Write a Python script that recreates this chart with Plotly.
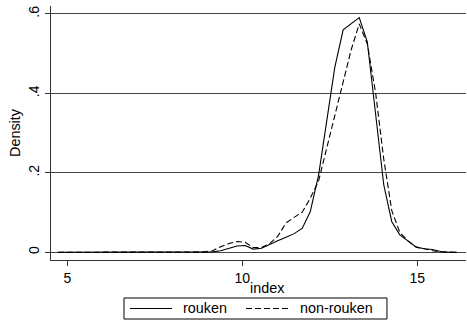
import plotly.graph_objects as go

# Evaluation grid of the kernel density estimates (index values)
index_grid = [4.73, 4.96, 5.20, 5.43, 5.66, 5.89, 6.13, 6.36, 6.59, 6.82,
              7.06, 7.29, 7.52, 7.75, 7.99, 8.22, 8.45, 8.69, 8.92, 9.15,
              9.38, 9.62, 9.85, 10.08, 10.31, 10.55, 10.78, 11.01, 11.25, 11.48,
              11.71, 11.94, 12.18, 12.41, 12.64, 12.88, 13.11, 13.34, 13.57, 13.81,
              14.04, 14.27, 14.50, 14.74, 14.97, 15.20, 15.43, 15.67, 15.90, 16.13]

# Density of index for the rouken group
density_rouken = [0, 0, 0, 0, 0, 0, 0, 0, 0, 0,
                  0, 0, 0, 0, 0, 0, 0, 0, 0, 0.001,
                  0.004, 0.010, 0.016, 0.017, 0.008, 0.010, 0.020, 0.029, 0.038, 0.047,
                  0.060, 0.102, 0.195, 0.330, 0.465, 0.560, 0.575, 0.591, 0.530, 0.340,
                  0.170, 0.077, 0.044, 0.028, 0.013, 0.009, 0.007, 0.002, 0, 0]

# Density of index for the non-rouken group
density_non_rouken = [0, 0, 0, 0, 0, 0, 0, 0, 0, 0,
                      0, 0, 0, 0, 0, 0, 0, 0, 0.001, 0.004,
                      0.014, 0.022, 0.027, 0.025, 0.012, 0.012, 0.022, 0.040, 0.074, 0.088,
                      0.101, 0.136, 0.180, 0.262, 0.345, 0.425, 0.510, 0.575, 0.525, 0.400,
                      0.235, 0.105, 0.050, 0.028, 0.013, 0.009, 0.004, 0.001, 0, 0]

series_names = ["rouken", "non-rouken"]
y_ticks = [0, 0.2, 0.4, 0.6]
y_tick_text = ["0", ".2", ".4", ".6"]
x_ticks = [5, 10, 15]

FONT = "Liberation Sans, Arial, Helvetica, sans-serif"
DASH = "6px,3px"
TEXT_SIZE = 14.4
TICK_SIZE = 14

fig = go.Figure()
fig.add_trace(go.Scatter(x=index_grid, y=density_rouken, mode="lines", name=series_names[0],
                         line=dict(color="black", width=1.1)))
fig.add_trace(go.Scatter(x=index_grid, y=density_non_rouken, mode="lines", name=series_names[1],
                         line=dict(color="black", width=1.1, dash=DASH)))

# x-axis title sits tight under the tick labels
fig.add_annotation(xref="paper", yref="paper", x=0.522, y=-0.11, text="index",
                   showarrow=False, xanchor="center", yanchor="middle",
                   font=dict(size=TEXT_SIZE, color="black"))

# Boxed legend below the x-axis title (paper coordinates)
fig.add_shape(type="rect", xref="paper", yref="paper", x0=0.1759, x1=0.8096,
              y0=-0.2323, y1=-0.1496, line=dict(color="black", width=1),
              fillcolor="white")
fig.add_shape(type="line", xref="paper", yref="paper", x0=0.1904, x1=0.2916,
              y0=-0.1909, y1=-0.1909, line=dict(color="black", width=1.1))
fig.add_shape(type="line", xref="paper", yref="paper", x0=0.4699, x1=0.5711,
              y0=-0.1909, y1=-0.1909, line=dict(color="black", width=1.1, dash=DASH))
fig.add_annotation(xref="paper", yref="paper", x=0.3133, y=-0.1909, text=series_names[0],
                   showarrow=False, xanchor="left", yanchor="middle",
                   font=dict(size=TEXT_SIZE, color="black"))
fig.add_annotation(xref="paper", yref="paper", x=0.5952, y=-0.1909, text=series_names[1],
                   showarrow=False, xanchor="left", yanchor="middle",
                   font=dict(size=TEXT_SIZE, color="black"))

fig.update_layout(
    width=467, height=321,
    margin=dict(l=51, r=1, t=6, b=61),
    paper_bgcolor="white", plot_bgcolor="white",
    font=dict(family=FONT, size=TICK_SIZE, color="black"),
    showlegend=False,
    xaxis=dict(range=[4.534, 16.39], tickvals=x_ticks, ticks="outside", ticklen=5,
               tickcolor="#333", showgrid=False, zeroline=False, showline=True,
               linecolor="#333", linewidth=1, automargin=False, ticklabelstandoff=0,
               tickfont=dict(size=TICK_SIZE)),
    yaxis=dict(range=[-0.0194, 0.6201], tickvals=y_ticks, ticktext=y_tick_text,
               tickangle=-90, ticks="outside", ticklen=5, tickcolor="#333",
               showgrid=True, gridcolor="#444", gridwidth=1, zeroline=False,
               showline=True, linecolor="#333", linewidth=1, automargin=False,
               tickfont=dict(size=TICK_SIZE),
               title=dict(text="Density", standoff=2, font=dict(size=TEXT_SIZE))),
)

fig.write_html("out.html")
